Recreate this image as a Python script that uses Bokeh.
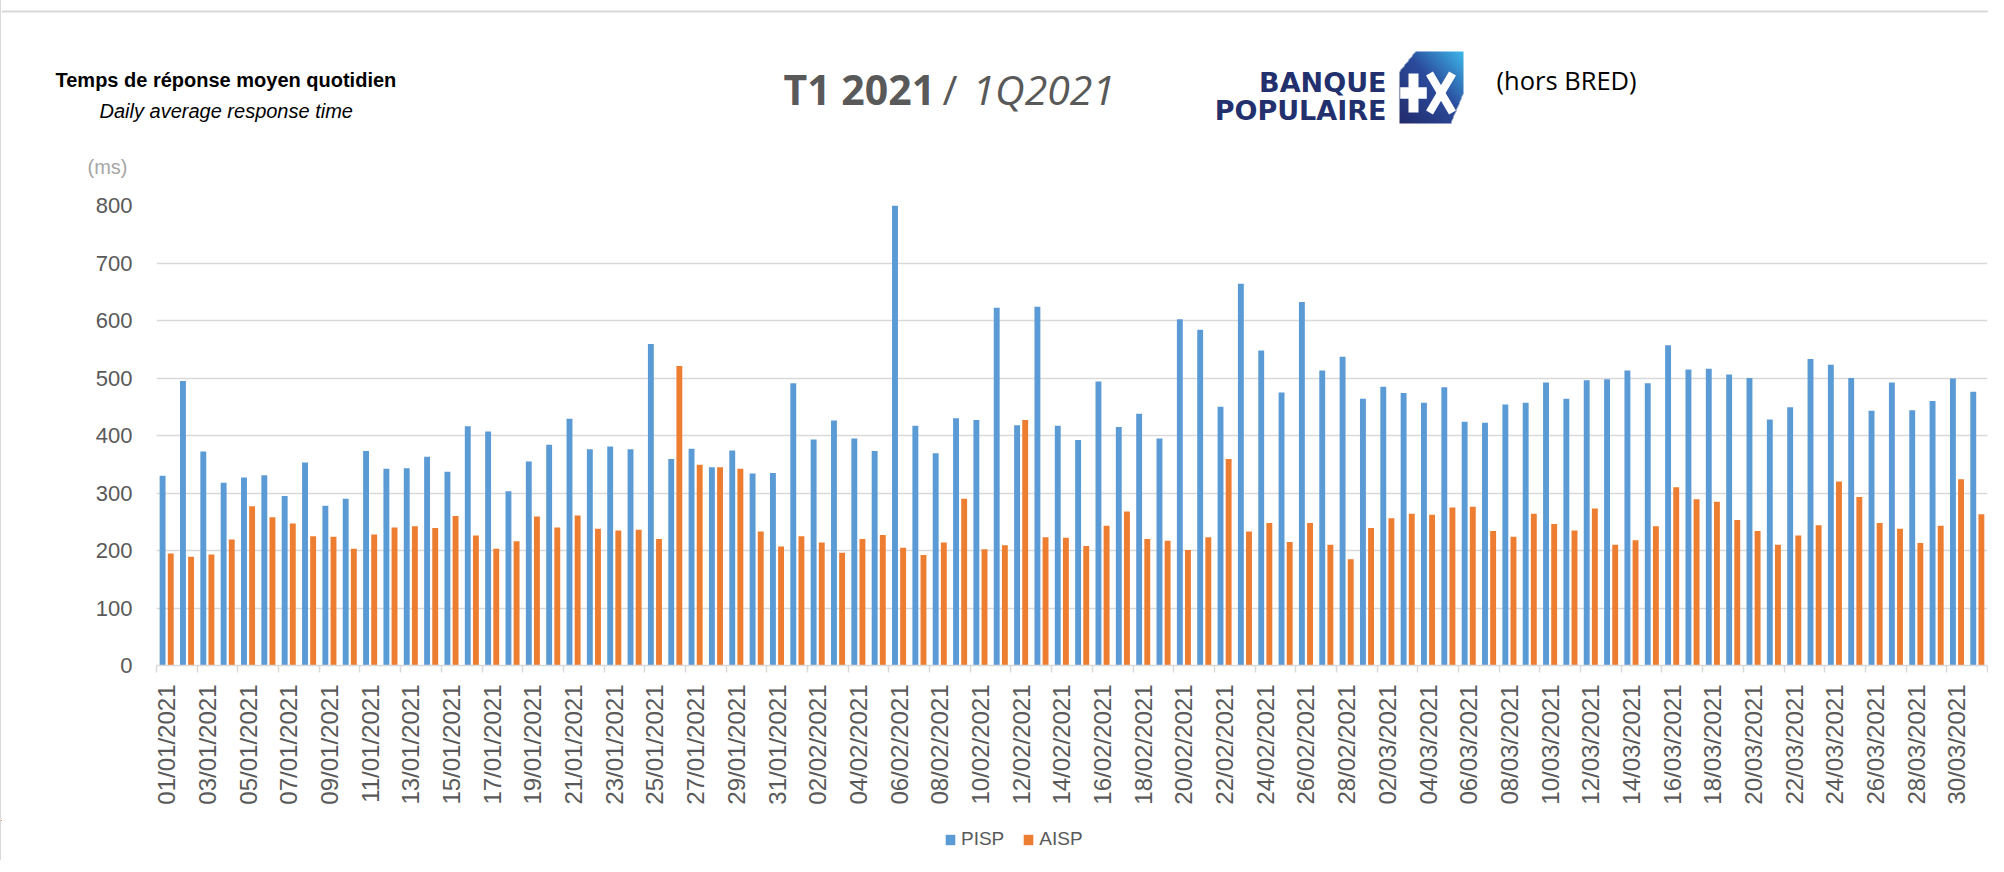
import math
import numpy as np
import pandas as pd
from bokeh.plotting import figure
from bokeh.models import (ColumnDataSource, Range1d, FixedTicker, Label, Legend, LegendItem)
from bokeh.transform import dodge
from bokeh.layouts import column
from bokeh.embed import file_html
from bokeh.resources import INLINE

# ---------------- data ----------------
dates = list(pd.date_range("2021-01-01", "2021-03-31", freq="D").strftime("%d/%m/%Y"))

pisp = [330, 495, 372, 318, 327, 331, 295, 353, 278, 290,
        373, 342, 343, 363, 337, 416, 407, 303, 355, 384,
        429, 376, 381, 376, 559, 359, 377, 345, 374, 334,
        335, 491, 393, 426, 395, 373, 800, 417, 369, 430,
        427, 622, 418, 624, 417, 392, 494, 415, 438, 395,
        602, 584, 450, 664, 548, 475, 632, 513, 537, 464,
        485, 474, 457, 484, 424, 422, 454, 457, 492, 464,
        496, 498, 513, 491, 557, 515, 516, 506, 500, 428,
        449, 533, 523, 500, 443, 492, 444, 460, 499, 476]

aisp = [195, 189, 193, 219, 277, 258, 247, 225, 224, 203,
        228, 240, 242, 239, 260, 226, 203, 216, 259, 240,
        261, 238, 235, 236, 220, 521, 349, 345, 342, 233,
        207, 225, 214, 196, 220, 227, 205, 192, 214, 290,
        202, 209, 427, 223, 222, 208, 243, 268, 220, 217,
        201, 223, 359, 233, 248, 215, 248, 210, 185, 239,
        256, 264, 262, 275, 276, 234, 224, 264, 246, 235,
        273, 210, 218, 242, 310, 289, 285, 253, 234, 210,
        226, 244, 320, 293, 248, 238, 213, 243, 324, 263]

series_names = ["PISP", "AISP"]
series_colors = ["#5B9BD5", "#ED7D31"]
y_ticks = [0, 100, 200, 300, 400, 500, 600, 700, 800]

# ---------------- layout geometry (screen pixels) ----------------
W = 1987
OX = 3            # screen x of the figures' left edge
HEAD_H = 188
FOOT_TOP = 820
FOOT_H = 40
MAIN_H = FOOT_TOP - HEAD_H
FRAME_L, FRAME_R, FRAME_T, FRAME_B = 158, 1989, 205, 665
GREY = "#595959"
LINE = "#D9D9D9"

# ---------------- header ----------------
h = figure(width=W, height=HEAD_H, x_range=Range1d(OX, OX + W), y_range=Range1d(-HEAD_H, 0),
           output_backend="svg", toolbar_location=None, min_border=0,
           x_axis_location=None, y_axis_location=None)
h.grid.visible = False
h.outline_line_color = None

h.line([OX, OX + W], [-11, -11], line_color=LINE, line_width=2)

h.add_layout(Label(x=57, y=-79, text="Temps de réponse moyen quotidien", text_font="Liberation Sans",
                   text_font_style="bold", text_font_size="20px", text_color="black",
                   text_baseline="middle"))
h.add_layout(Label(x=101, y=-110, text="Daily average response time", text_font="Liberation Sans",
                   text_font_style="italic", text_font_size="20px", text_color="black",
                   text_baseline="middle"))
h.add_layout(Label(x=109, y=-166, text="(ms)", text_font="Liberation Sans",
                   text_font_size="20px", text_color="#A6A6A6",
                   text_baseline="middle", text_align="center"))

TY = -88
h.add_layout(Label(x=785, y=TY, text="T1 2021", text_font="Open Sans", text_font_style="bold",
                   text_font_size="41px", text_color=GREY, text_baseline="middle"))
h.add_layout(Label(x=944, y=TY, text="/", text_font="Open Sans",
                   text_font_size="41px", text_color=GREY, text_baseline="middle"))
h.add_layout(Label(x=974, y=TY, text="1Q2021", text_font="Open Sans", text_font_style="italic",
                   text_font_size="41px", text_color=GREY, text_baseline="middle"))

NAVY = "#23306E"
h.add_layout(Label(x=1388, y=-82, text="BANQUE", text_font="DejaVu Sans", text_font_style="bold",
                   text_font_size="27px", text_color=NAVY, text_baseline="middle", text_align="right"))
h.add_layout(Label(x=1388, y=-110, text="POPULAIRE", text_font="DejaVu Sans", text_font_style="bold",
                   text_font_size="27px", text_color=NAVY, text_baseline="middle", text_align="right"))

# logo square with gradient
x0, x1, y0, y1 = 1400.0, 1465.0, 51.0, 123.0
S = 3
nx = int((x1 - x0) * S)
ny = int((y1 - y0) * S)
xs = x0 + (np.arange(nx) + 0.5) / S
ys = y1 - (np.arange(ny) + 0.5) / S
X, Yp = np.meshgrid(xs, ys)
poly = [(1400.7, 71.7), (1416.7, 51.5), (1464.5, 51.5), (1464.5, 94.0), (1452.5, 122.5), (1400.7, 122.5)]
mask = np.ones_like(X, dtype=bool)
for i in range(len(poly)):
    ax_, ay_ = poly[i]
    bx_, by_ = poly[(i + 1) % len(poly)]
    cross = (bx_ - ax_) * (Yp - ay_) - (by_ - ay_) * (X - ax_)
    mask &= cross >= 0
u = (X - x0) / (x1 - x0)
v = (y1 - Yp) / (y1 - y0)
t = np.clip((u + v) / 2.0, 0, 1)
stops_t = [0.0, 0.55, 1.0]
stops_c = [(0x22, 0x2B, 0x6B), (0x2B, 0x4C, 0x9C), (0x3E, 0xB8, 0xEA)]
img = np.zeros((ny, nx), dtype=np.uint32)
view = img.view(dtype=np.uint8).reshape((ny, nx, 4))
for ch in range(3):
    view[:, :, ch] = np.interp(t, stops_t, [c[ch] for c in stops_c]).astype(np.uint8)
view[:, :, 3] = np.where(mask, 255, 0).astype(np.uint8)
h.image_rgba(image=[img], x=x0, y=-y1, dw=x1 - x0, dh=y1 - y0)

h.quad(left=1401.7, right=1428.3, top=-86.7, bottom=-98.3, fill_color="white", line_color=None)
h.quad(left=1410, right=1420, top=-73, bottom=-112, fill_color="white", line_color=None)
h.segment(x0=[1431, 1454], y0=[-73, -73], x1=[1454, 1431], y1=[-112, -112],
          line_color="white", line_width=8, line_cap="butt")

h.add_layout(Label(x=1498, y=-79, text="(hors BRED)", text_font="Open Sans",
                   text_font_size="25.5px", text_color="black", text_baseline="middle"))

# ---------------- main chart ----------------
idx = list(range(len(dates)))
src = ColumnDataSource(dict(x=idx, date=dates, PISP=pisp, AISP=aisp))

p = figure(width=W, height=MAIN_H, x_range=Range1d(-0.5, len(dates) - 0.5), y_range=Range1d(0, 800),
           output_backend="svg", toolbar_location=None,
           min_border_left=FRAME_L - OX, min_border_right=OX + W - FRAME_R,
           min_border_top=FRAME_T - HEAD_H, min_border_bottom=FOOT_TOP - FRAME_B)
p.outline_line_color = None

for name, col, off in zip(series_names, series_colors, [-0.2, 0.2]):
    p.vbar(x=dodge("x", off, range=p.x_range), top=name, width=0.29, bottom=0,
           source=src, fill_color=col, line_color=None)

p.xgrid.visible = False
p.ygrid.ticker = FixedTicker(ticks=y_ticks)
p.ygrid.grid_line_color = LINE
p.ygrid.grid_line_width = 1.5

p.yaxis.ticker = FixedTicker(ticks=y_ticks)
p.yaxis.axis_line_color = None
p.yaxis.major_tick_line_color = None
p.yaxis.minor_tick_line_color = None
p.yaxis.major_tick_out = 0
p.yaxis.major_label_standoff = 24
p.yaxis.major_label_text_font = "Liberation Sans"
p.yaxis.major_label_text_font_size = "22px"
p.yaxis.major_label_text_color = GREY

label_ticks = list(range(0, len(dates), 2))
p.xaxis.ticker = FixedTicker(ticks=label_ticks,
                             minor_ticks=[i - 0.5 for i in range(0, len(dates) + 1, 2)])
p.xaxis.major_label_overrides = {i: dates[i] for i in label_ticks}
p.xaxis.major_label_orientation = math.pi / 2
p.xaxis.axis_line_color = LINE
p.xaxis.axis_line_width = 1.5
p.xaxis.major_tick_line_color = None
p.xaxis.major_tick_out = 0
p.xaxis.major_tick_in = 0
p.xaxis.minor_tick_line_color = LINE
p.xaxis.minor_tick_line_width = 1.5
p.xaxis.minor_tick_out = 7
p.xaxis.minor_tick_in = 0
p.xaxis.major_label_standoff = 12
p.xaxis.major_label_text_font = "Liberation Sans"
p.xaxis.major_label_text_font_size = "24px"
p.xaxis.major_label_text_color = GREY

# ---------------- footer with legend ----------------
f = figure(width=W, height=FOOT_H, x_range=Range1d(OX, OX + W),
           y_range=Range1d(-(FOOT_TOP + FOOT_H), -FOOT_TOP),
           output_backend="svg", toolbar_location=None, min_border=0,
           x_axis_location=None, y_axis_location=None)
f.grid.visible = False
f.outline_line_color = None
# zero-height copies of the series, placed far outside this strip, only to feed the legend swatches
swatches = []
for name, col in zip(series_names, series_colors):
    swatches.append(f.vbar(x=dodge("x", -100000, range=f.x_range), top=name, bottom=name, width=0.29,
                           source=src, fill_color=col, line_color=None))
legend = Legend(items=[LegendItem(label=n, renderers=[r]) for n, r in zip(series_names, swatches)],
                orientation="horizontal", location=(946 - OX, 10), padding=0, margin=0, spacing=18,
                glyph_width=12, glyph_height=13, label_standoff=5,
                label_text_font="Liberation Sans", label_text_font_size="19px",
                label_text_color=GREY, border_line_color=None, background_fill_alpha=0)
f.add_layout(legend)

for fig in (h, p, f):
    if "frame_align" in fig.properties():
        fig.frame_align = False

layout = column(h, p, f, spacing=0, styles={"border-left": "1px solid #D9D9D9"})

with open("out.html", "w") as f_out:
    f_out.write(file_html(layout, INLINE))
